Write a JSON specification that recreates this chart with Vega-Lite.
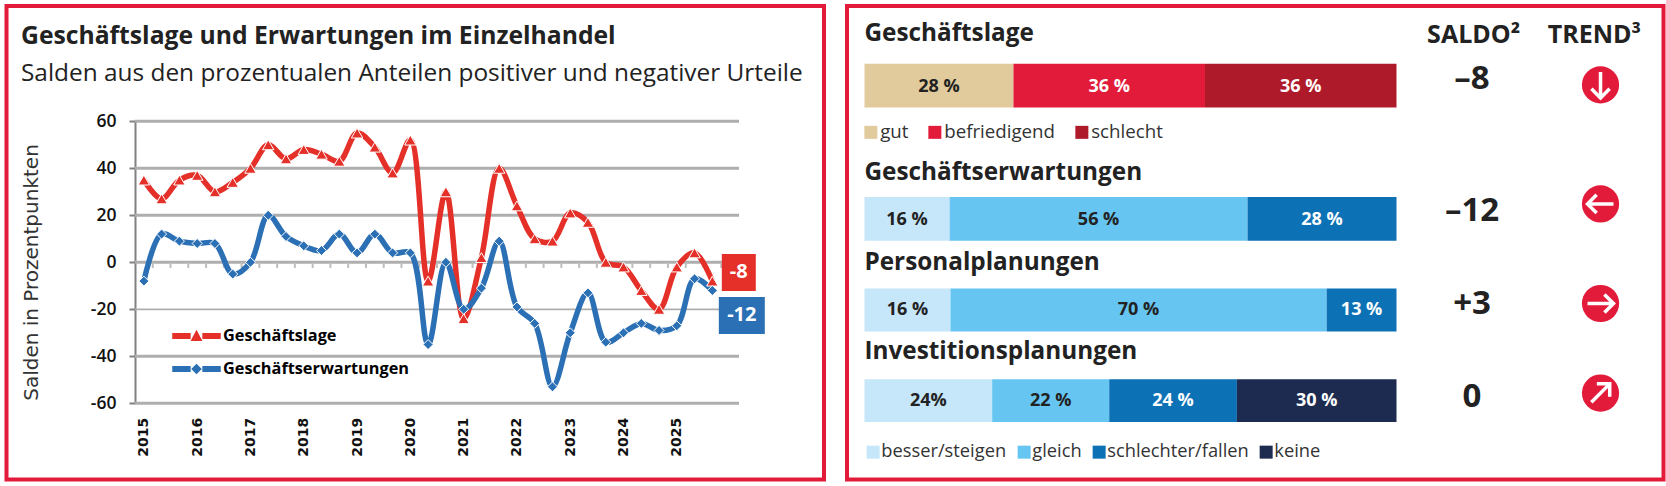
{
"$schema":"https://vega.github.io/schema/vega-lite/v6.json",
"background":"white",
"padding":{"left":4.5,"top":4,"right":0,"bottom":0},
"bounds":"flush",
"spacing":22.5,
"resolve":{"scale":{"color":"independent","fill":"independent"},"legend":{"color":"independent","fill":"independent"}},
"config":{"view":{"stroke":"#E31B3A","strokeWidth":4,"fill":"white"},"font":"Open Sans","axis":{"grid":false}},
"datasets":{
"salden":[
{"jahr":2015,"reihe":"Geschäftslage","saldo":35},{"jahr":2015.333,"reihe":"Geschäftslage","saldo":27},{"jahr":2015.667,"reihe":"Geschäftslage","saldo":35},
{"jahr":2016,"reihe":"Geschäftslage","saldo":37},{"jahr":2016.333,"reihe":"Geschäftslage","saldo":30},{"jahr":2016.667,"reihe":"Geschäftslage","saldo":34},
{"jahr":2017,"reihe":"Geschäftslage","saldo":40},{"jahr":2017.333,"reihe":"Geschäftslage","saldo":50},{"jahr":2017.667,"reihe":"Geschäftslage","saldo":44},
{"jahr":2018,"reihe":"Geschäftslage","saldo":48},{"jahr":2018.333,"reihe":"Geschäftslage","saldo":46},{"jahr":2018.667,"reihe":"Geschäftslage","saldo":43},
{"jahr":2019,"reihe":"Geschäftslage","saldo":55},{"jahr":2019.333,"reihe":"Geschäftslage","saldo":49},{"jahr":2019.667,"reihe":"Geschäftslage","saldo":38},
{"jahr":2020,"reihe":"Geschäftslage","saldo":52},{"jahr":2020.333,"reihe":"Geschäftslage","saldo":-8},{"jahr":2020.667,"reihe":"Geschäftslage","saldo":30},
{"jahr":2021,"reihe":"Geschäftslage","saldo":-24},{"jahr":2021.333,"reihe":"Geschäftslage","saldo":2},{"jahr":2021.667,"reihe":"Geschäftslage","saldo":40},
{"jahr":2022,"reihe":"Geschäftslage","saldo":24},{"jahr":2022.333,"reihe":"Geschäftslage","saldo":10},{"jahr":2022.667,"reihe":"Geschäftslage","saldo":9},
{"jahr":2023,"reihe":"Geschäftslage","saldo":21},{"jahr":2023.333,"reihe":"Geschäftslage","saldo":17},{"jahr":2023.667,"reihe":"Geschäftslage","saldo":0},
{"jahr":2024,"reihe":"Geschäftslage","saldo":-2},{"jahr":2024.333,"reihe":"Geschäftslage","saldo":-12},{"jahr":2024.667,"reihe":"Geschäftslage","saldo":-20},
{"jahr":2025,"reihe":"Geschäftslage","saldo":-2},{"jahr":2025.333,"reihe":"Geschäftslage","saldo":4},{"jahr":2025.667,"reihe":"Geschäftslage","saldo":-8},
{"jahr":2015,"reihe":"Geschäftserwartungen","saldo":-8},{"jahr":2015.333,"reihe":"Geschäftserwartungen","saldo":12},{"jahr":2015.667,"reihe":"Geschäftserwartungen","saldo":9},
{"jahr":2016,"reihe":"Geschäftserwartungen","saldo":8},{"jahr":2016.333,"reihe":"Geschäftserwartungen","saldo":8},{"jahr":2016.667,"reihe":"Geschäftserwartungen","saldo":-5},
{"jahr":2017,"reihe":"Geschäftserwartungen","saldo":0},{"jahr":2017.333,"reihe":"Geschäftserwartungen","saldo":20},{"jahr":2017.667,"reihe":"Geschäftserwartungen","saldo":11},
{"jahr":2018,"reihe":"Geschäftserwartungen","saldo":7},{"jahr":2018.333,"reihe":"Geschäftserwartungen","saldo":5},{"jahr":2018.667,"reihe":"Geschäftserwartungen","saldo":12},
{"jahr":2019,"reihe":"Geschäftserwartungen","saldo":4},{"jahr":2019.333,"reihe":"Geschäftserwartungen","saldo":12},{"jahr":2019.667,"reihe":"Geschäftserwartungen","saldo":4},
{"jahr":2020,"reihe":"Geschäftserwartungen","saldo":4},{"jahr":2020.333,"reihe":"Geschäftserwartungen","saldo":-35},{"jahr":2020.667,"reihe":"Geschäftserwartungen","saldo":0},
{"jahr":2021,"reihe":"Geschäftserwartungen","saldo":-20},{"jahr":2021.333,"reihe":"Geschäftserwartungen","saldo":-11},{"jahr":2021.667,"reihe":"Geschäftserwartungen","saldo":9},
{"jahr":2022,"reihe":"Geschäftserwartungen","saldo":-19},{"jahr":2022.333,"reihe":"Geschäftserwartungen","saldo":-26},{"jahr":2022.667,"reihe":"Geschäftserwartungen","saldo":-53},
{"jahr":2023,"reihe":"Geschäftserwartungen","saldo":-30},{"jahr":2023.333,"reihe":"Geschäftserwartungen","saldo":-13},{"jahr":2023.667,"reihe":"Geschäftserwartungen","saldo":-34},
{"jahr":2024,"reihe":"Geschäftserwartungen","saldo":-30},{"jahr":2024.333,"reihe":"Geschäftserwartungen","saldo":-26},{"jahr":2024.667,"reihe":"Geschäftserwartungen","saldo":-29},
{"jahr":2025,"reihe":"Geschäftserwartungen","saldo":-27},{"jahr":2025.333,"reihe":"Geschäftserwartungen","saldo":-7},{"jahr":2025.667,"reihe":"Geschäftserwartungen","saldo":-12}
],
"raster":[{"wert":60},{"wert":40},{"wert":20},{"wert":0},{"wert":-20},{"wert":-40},{"wert":-60}],
"striche":[{"j":2015.167},{"j":2015.5},{"j":2015.833},{"j":2016.167},{"j":2016.5},{"j":2016.833},{"j":2017.167},{"j":2017.5},{"j":2017.833},{"j":2018.167},{"j":2018.5},{"j":2018.833},{"j":2019.167},{"j":2019.5},{"j":2019.833},{"j":2020.167},{"j":2020.5},{"j":2020.833},{"j":2021.167},{"j":2021.5},{"j":2021.833},{"j":2022.167},{"j":2022.5},{"j":2022.833},{"j":2023.167},{"j":2023.5},{"j":2023.833},{"j":2024.167},{"j":2024.5},{"j":2024.833},{"j":2025.167},{"j":2025.5},{"j":2025.833},{"j":2026.167}],
"anteile":[
{"thema":"Geschäftslage","kategorie":"gut","rang":1,"anteil":28,"label":"28 %"},
{"thema":"Geschäftslage","kategorie":"befriedigend","rang":2,"anteil":36,"label":"36 %"},
{"thema":"Geschäftslage","kategorie":"schlecht","rang":3,"anteil":36,"label":"36 %"},
{"thema":"Geschäftserwartungen","kategorie":"besser/steigen","rang":1,"anteil":16,"label":"16 %"},
{"thema":"Geschäftserwartungen","kategorie":"gleich","rang":2,"anteil":56,"label":"56 %"},
{"thema":"Geschäftserwartungen","kategorie":"schlechter/fallen","rang":3,"anteil":28,"label":"28 %"},
{"thema":"Personalplanungen","kategorie":"besser/steigen","rang":1,"anteil":16,"label":"16 %"},
{"thema":"Personalplanungen","kategorie":"gleich","rang":2,"anteil":70,"label":"70 %"},
{"thema":"Personalplanungen","kategorie":"schlechter/fallen","rang":3,"anteil":13,"label":"13 %"},
{"thema":"Investitionsplanungen","kategorie":"besser/steigen","rang":1,"anteil":24,"label":"24%"},
{"thema":"Investitionsplanungen","kategorie":"gleich","rang":2,"anteil":22,"label":"22 %"},
{"thema":"Investitionsplanungen","kategorie":"schlechter/fallen","rang":3,"anteil":24,"label":"24 %"},
{"thema":"Investitionsplanungen","kategorie":"keine","rang":4,"anteil":30,"label":"30 %"}
],
"zeilen":[
{"thema":"Geschäftslage","saldo":"–8","trend":"fallend"},
{"thema":"Geschäftserwartungen","saldo":"–12","trend":"links"},
{"thema":"Personalplanungen","saldo":"+3","trend":"rechts"},
{"thema":"Investitionsplanungen","saldo":"0","trend":"steigend"}
],
"kopf":[{"spalte":"SALDO²"},{"spalte":"TREND³"}]
},
"hconcat":[
{
"width":817.5,"height":473.5,
"title":{"text":"Geschäftslage und Erwartungen im Einzelhandel","subtitle":"Salden aus den prozentualen Anteilen positiver und negativer Urteile","anchor":"start","frame":"group","offset":-79,"dx":14.5,"font":"Open Sans","fontSize":24.7,"fontWeight":"bold","color":"#222222","subtitleFont":"Open Sans","subtitleFontSize":24.4,"subtitleColor":"#222222","subtitlePadding":13},
"layer":[
{"data":{"name":"raster"},"mark":{"type":"rule","color":"#AEAEAE"},
 "encoding":{
  "y":{"field":"wert","type":"quantitative","scale":{"domain":[-60,60],"range":[397.3,115.3]}},
  "x":{"datum":2014.8333,"type":"quantitative","scale":{"domain":[2014.8333,2026.1667],"range":[128.5,732.5]}},
  "x2":{"datum":2026.1667},
  "strokeWidth":{"condition":{"test":"datum.wert==-20","value":1.8},"value":3}}},
{"data":{"name":"striche"},"mark":{"type":"rule","color":"#BDBDBD","strokeWidth":2},
 "encoding":{
  "x":{"field":"j","type":"quantitative","scale":{"domain":[2014.8333,2026.1667],"range":[128.5,732.5]}},
  "y":{"datum":0,"type":"quantitative","scale":{"domain":[-60,60],"range":[397.3,115.3]}},
  "y2":{"datum":-2.4}}},
{"data":{"name":"salden"},"mark":{"type":"line","interpolate":"catmull-rom","strokeWidth":5.5},
 "encoding":{
  "x":{"field":"jahr","type":"quantitative","scale":{"domain":[2014.8333,2026.1667],"range":[128.5,732.5]},
   "axis":{"orient":"bottom","offset":-76.2,"title":null,"values":[2015,2016,2017,2018,2019,2020,2021,2022,2023,2024,2025],"format":"d","grid":false,"domain":false,"ticks":false,"labelAngle":270,"labelAlign":"right","labelBaseline":"middle","labelPadding":14,"labelFont":"DejaVu Sans","labelFontWeight":"bold","labelFontSize":14,"labelColor":"#111111","labelOverlap":false,"labelFlush":false}},
  "y":{"field":"saldo","type":"quantitative","scale":{"domain":[-60,60],"range":[397.3,115.3]},
   "axis":{"orient":"left","offset":-128.5,"title":"Salden in Prozentpunkten","titleFont":"DejaVu Sans","titleFontWeight":"normal","titleFontSize":20,"titleColor":"#333333","titleAngle":270,"titleAlign":"center","titleBaseline":"middle","titleX":-104,"titleY":266,"values":[60,40,20,0,-20,-40,-60],"labelExpr":"''+datum.value","grid":false,"domainColor":"#808080","domainWidth":2,"tickColor":"#808080","tickWidth":2,"tickSize":6,"labelPadding":13,"labelFont":"Open Sans","labelFontWeight":600,"labelFontSize":17.5,"labelColor":"#111111"}},
  "color":{"field":"reihe","type":"nominal","sort":["Geschäftslage","Geschäftserwartungen"],"scale":{"domain":["Geschäftslage","Geschäftserwartungen"],"range":["#E53029","#2B70B5"]},
   "legend":{"orient":"none","legendX":165.5,"legendY":305.5,"title":null,"direction":"vertical","rowPadding":-13.7,"symbolSize":2209,"labelFont":"Open Sans","labelFontWeight":"bold","labelFontSize":16.3,"labelColor":"#000000","labelOffset":2,"labelLimit":400,
    "encode":{"symbols":{"update":{
     "shape":{"signal":"datum.value=='Geschäftslage'?'M-1,-0.1L-0.28,-0.1L-0.28,0.1L-1,0.1ZM0.28,-0.1L1,-0.1L1,0.1L0.28,0.1ZM0,-0.2L0.2,0.18L-0.2,0.18Z':'M-1,-0.1L-0.28,-0.1L-0.28,0.1L-1,0.1ZM0.28,-0.1L1,-0.1L1,0.1L0.28,0.1ZM0,-0.18L0.18,0L0,0.18L-0.18,0Z'"},
     "fill":{"signal":"datum.value=='Geschäftslage'?'#E53029':'#2B70B5'"},
     "stroke":{"value":"transparent"},"opacity":{"value":1}}}}}}}},
{"data":{"name":"salden"},"transform":[{"filter":"datum.reihe=='Geschäftslage'"}],"mark":{"type":"point","shape":"triangle-up","filled":true,"opacity":1,"stroke":"white","strokeWidth":1,"size":130,"fill":"#E53029"},
 "encoding":{
  "x":{"field":"jahr","type":"quantitative","scale":{"domain":[2014.8333,2026.1667],"range":[128.5,732.5]}},
  "y":{"field":"saldo","type":"quantitative","scale":{"domain":[-60,60],"range":[397.3,115.3]}}}},
{"data":{"name":"salden"},"transform":[{"filter":"datum.reihe=='Geschäftserwartungen'"}],"mark":{"type":"point","shape":"diamond","filled":true,"opacity":1,"stroke":"white","strokeWidth":1,"size":100,"fill":"#2B70B5"},
 "encoding":{
  "x":{"field":"jahr","type":"quantitative","scale":{"domain":[2014.8333,2026.1667],"range":[128.5,732.5]}},
  "y":{"field":"saldo","type":"quantitative","scale":{"domain":[-60,60],"range":[397.3,115.3]}}}},
{"data":{"values":[{"wert":"-8"}]},
 "layer":[
  {"mark":{"type":"rect","color":"#E53029"},"encoding":{
    "x":{"datum":2025.844,"type":"quantitative","scale":{"domain":[2014.8333,2026.1667],"range":[128.5,732.5]}},"x2":{"datum":2026.482},
    "y":{"datum":3.5,"type":"quantitative","scale":{"domain":[-60,60],"range":[397.3,115.3]}},"y2":{"datum":-12.2}}},
  {"mark":{"type":"text","color":"white","font":"Open Sans","fontWeight":"bold","fontSize":20,"align":"center","baseline":"middle"},"encoding":{
    "x":{"datum":2026.163,"type":"quantitative","scale":{"domain":[2014.8333,2026.1667],"range":[128.5,732.5]}},
    "y":{"datum":-4.3,"type":"quantitative","scale":{"domain":[-60,60],"range":[397.3,115.3]}},
    "text":{"field":"wert"}}}
 ]},
{"data":{"values":[{"wert":"-12"}]},
 "layer":[
  {"mark":{"type":"rect","color":"#2B70B5"},"encoding":{
    "x":{"datum":2025.788,"type":"quantitative","scale":{"domain":[2014.8333,2026.1667],"range":[128.5,732.5]}},"x2":{"datum":2026.651},
    "y":{"datum":-14.8,"type":"quantitative","scale":{"domain":[-60,60],"range":[397.3,115.3]}},"y2":{"datum":-30.5}}},
  {"mark":{"type":"text","color":"white","font":"Open Sans","fontWeight":"bold","fontSize":20,"align":"center","baseline":"middle"},"encoding":{
    "x":{"datum":2026.219,"type":"quantitative","scale":{"domain":[2014.8333,2026.1667],"range":[128.5,732.5]}},
    "y":{"datum":-22.6,"type":"quantitative","scale":{"domain":[-60,60],"range":[397.3,115.3]}},
    "text":{"field":"wert"}}}
 ]}
]
},
{
"width":816.5,"height":473.5,
"layer":[
{"data":{"name":"anteile"},"transform":[{"filter":"datum.thema=='Geschäftslage'"}],
 "layer":[
  {"mark":{"type":"bar","orient":"horizontal"},"encoding":{
    "x":{"field":"anteil","type":"quantitative","stack":"normalize","axis":null,"scale":{"domain":[0,1],"range":[17.5,549.5]}},
    "y":{"datum":53.8,"type":"quantitative","axis":null,"scale":{"domain":[473.5,0]}},"y2":{"datum":98.5},
    "order":{"field":"rang","type":"ordinal"},
    "color":{"field":"kategorie","type":"nominal","scale":{"domain":["gut","befriedigend","schlecht"],"range":["#E1CB9C","#E31B3A","#AF1A2A"]},
     "legend":{"orient":"none","legendX":14.5,"legendY":117,"title":null,"direction":"horizontal","columns":3,"symbolType":"square","symbolSize":169,"symbolOpacity":1,"columnPadding":17,"gridAlign":"none","labelFont":"Open Sans","labelFontSize":18.7,"labelColor":"#333333","labelOffset":0}}}},
  {"mark":{"type":"text","font":"Open Sans","fontWeight":"bold","fontSize":18,"align":"center","baseline":"middle"},"encoding":{
    "x":{"field":"anteil","type":"quantitative","stack":"normalize","bandPosition":0.5,"axis":null,"scale":{"domain":[0,1],"range":[17.5,549.5]}},
    "y":{"datum":77.2,"type":"quantitative","axis":null,"scale":{"domain":[473.5,0]}},
    "order":{"field":"rang","type":"ordinal"},"detail":{"field":"kategorie"},
    "text":{"field":"label"},
    "color":{"condition":{"test":"datum.kategorie=='gut'","value":"#222222"},"value":"#FFFFFF"}}}
 ]},
{"data":{"name":"anteile"},"transform":[{"filter":"datum.thema=='Geschäftserwartungen'"}],
 "layer":[
  {"mark":{"type":"bar","orient":"horizontal"},"encoding":{
    "x":{"field":"anteil","type":"quantitative","stack":"normalize","axis":null,"scale":{"domain":[0,1],"range":[17.5,549.5]}},
    "y":{"datum":190,"type":"quantitative","axis":null,"scale":{"domain":[473.5,0]}},"y2":{"datum":234.8},
    "order":{"field":"rang","type":"ordinal"},
    "fill":{"field":"kategorie","type":"nominal","scale":{"domain":["besser/steigen","gleich","schlechter/fallen","keine"],"range":["#C6E6FA","#66C5F1","#0C71B5","#1D2B50"]},
     "legend":{"orient":"none","legendX":17,"legendY":437,"title":null,"direction":"horizontal","columns":4,"symbolType":"square","symbolSize":169,"symbolOpacity":1,"columnPadding":7,"gridAlign":"none","labelFont":"Open Sans","labelFontSize":18.3,"labelColor":"#333333","labelOffset":-1,
      "encode":{"symbols":{"update":{"fill":{"signal":"datum.value=='keine'?'#000000':datum.value=='gleich'?'#66C5F1':datum.value=='besser/steigen'?'#C6E6FA':'#0C71B5'"},"opacity":{"value":1}}}}}}}},
  {"mark":{"type":"text","font":"Open Sans","fontWeight":"bold","fontSize":18,"align":"center","baseline":"middle"},"encoding":{
    "x":{"field":"anteil","type":"quantitative","stack":"normalize","bandPosition":0.5,"axis":null,"scale":{"domain":[0,1],"range":[17.5,549.5]}},
    "y":{"datum":213.4,"type":"quantitative","axis":null,"scale":{"domain":[473.5,0]}},
    "order":{"field":"rang","type":"ordinal"},"detail":{"field":"kategorie"},
    "text":{"field":"label"},
    "color":{"condition":{"test":"datum.kategorie=='schlechter/fallen'||datum.kategorie=='keine'","value":"#FFFFFF"},"value":"#222222"}}}
 ]},
{"data":{"name":"anteile"},"transform":[{"filter":"datum.thema=='Personalplanungen'"}],
 "layer":[
  {"mark":{"type":"bar","orient":"horizontal"},"encoding":{
    "x":{"field":"anteil","type":"quantitative","stack":"normalize","axis":null,"scale":{"domain":[0,1],"range":[17.5,549.5]}},
    "y":{"datum":283.6,"type":"quantitative","axis":null,"scale":{"domain":[473.5,0]}},"y2":{"datum":327.3},
    "order":{"field":"rang","type":"ordinal"},
    "fill":{"field":"kategorie","type":"nominal","legend":null,"scale":{"domain":["besser/steigen","gleich","schlechter/fallen","keine"],"range":["#C6E6FA","#66C5F1","#0C71B5","#1D2B50"]}}}},
  {"mark":{"type":"text","font":"Open Sans","fontWeight":"bold","fontSize":18,"align":"center","baseline":"middle"},"encoding":{
    "x":{"field":"anteil","type":"quantitative","stack":"normalize","bandPosition":0.5,"axis":null,"scale":{"domain":[0,1],"range":[17.5,549.5]}},
    "y":{"datum":305.9,"type":"quantitative","axis":null,"scale":{"domain":[473.5,0]}},
    "order":{"field":"rang","type":"ordinal"},"detail":{"field":"kategorie"},
    "text":{"field":"label"},
    "color":{"condition":{"test":"datum.kategorie=='schlechter/fallen'||datum.kategorie=='keine'","value":"#FFFFFF"},"value":"#222222"}}}
 ]},
{"data":{"name":"anteile"},"transform":[{"filter":"datum.thema=='Investitionsplanungen'"}],
 "layer":[
  {"mark":{"type":"bar","orient":"horizontal"},"encoding":{
    "x":{"field":"anteil","type":"quantitative","stack":"normalize","axis":null,"scale":{"domain":[0,1],"range":[17.5,549.5]}},
    "y":{"datum":376.1,"type":"quantitative","axis":null,"scale":{"domain":[473.5,0]}},"y2":{"datum":419.8},
    "order":{"field":"rang","type":"ordinal"},
    "fill":{"field":"kategorie","type":"nominal","legend":null,"scale":{"domain":["besser/steigen","gleich","schlechter/fallen","keine"],"range":["#C6E6FA","#66C5F1","#0C71B5","#1D2B50"]}}}},
  {"mark":{"type":"text","font":"Open Sans","fontWeight":"bold","fontSize":18,"align":"center","baseline":"middle"},"encoding":{
    "x":{"field":"anteil","type":"quantitative","stack":"normalize","bandPosition":0.5,"axis":null,"scale":{"domain":[0,1],"range":[17.5,549.5]}},
    "y":{"datum":398.5,"type":"quantitative","axis":null,"scale":{"domain":[473.5,0]}},
    "order":{"field":"rang","type":"ordinal"},"detail":{"field":"kategorie"},
    "text":{"field":"label"},
    "color":{"condition":{"test":"datum.kategorie=='schlechter/fallen'||datum.kategorie=='keine'","value":"#FFFFFF"},"value":"#222222"}}}
 ]},
{"data":{"name":"zeilen"},"transform":[{"filter":"datum.thema=='Geschäftslage'"}],
 "layer":[
  {"mark":{"type":"text","font":"Open Sans","fontWeight":"bold","fontSize":24.3,"color":"#222222","align":"left","baseline":"middle"},"encoding":{"x":{"datum":0,"type":"quantitative","axis":null,"scale":{"domain":[0,1],"range":[17.5,549.5]}},"y":{"datum":23.3,"type":"quantitative","axis":null,"scale":{"domain":[473.5,0]}},"text":{"field":"thema"}}},
  {"mark":{"type":"text","font":"Open Sans","fontWeight":"bold","fontSize":33,"color":"#222222","align":"center","baseline":"middle"},"encoding":{"x":{"datum":1.142,"type":"quantitative","axis":null,"scale":{"domain":[0,1],"range":[17.5,549.5]}},"y":{"datum":69.1,"type":"quantitative","axis":null,"scale":{"domain":[473.5,0]}},"text":{"field":"saldo"}}},
  {"mark":{"type":"circle","size":1385,"color":"#E31B3A","opacity":1},"encoding":{"x":{"datum":1.3835,"type":"quantitative","axis":null,"scale":{"domain":[0,1],"range":[17.5,549.5]}},"y":{"datum":75.5,"type":"quantitative","axis":null,"scale":{"domain":[473.5,0]}}}},
  {"mark":{"type":"point","shape":"M0,-1L0,1M-0.7,0.3L0,1L0.7,0.3","filled":false,"stroke":"white","strokeWidth":3.5,"opacity":1,"size":676,"angle":0},"encoding":{"x":{"datum":1.3835,"type":"quantitative","axis":null,"scale":{"domain":[0,1],"range":[17.5,549.5]}},"y":{"datum":75.5,"type":"quantitative","axis":null,"scale":{"domain":[473.5,0]}}}}
 ]},
{"data":{"name":"zeilen"},"transform":[{"filter":"datum.thema=='Geschäftserwartungen'"}],
 "layer":[
  {"mark":{"type":"text","font":"Open Sans","fontWeight":"bold","fontSize":24.3,"color":"#222222","align":"left","baseline":"middle"},"encoding":{"x":{"datum":0,"type":"quantitative","axis":null,"scale":{"domain":[0,1],"range":[17.5,549.5]}},"y":{"datum":165.6,"type":"quantitative","axis":null,"scale":{"domain":[473.5,0]}},"text":{"field":"thema"}}},
  {"mark":{"type":"text","font":"Open Sans","fontWeight":"bold","fontSize":33,"color":"#222222","align":"center","baseline":"middle"},"encoding":{"x":{"datum":1.142,"type":"quantitative","axis":null,"scale":{"domain":[0,1],"range":[17.5,549.5]}},"y":{"datum":204.2,"type":"quantitative","axis":null,"scale":{"domain":[473.5,0]}},"text":{"field":"saldo"}}},
  {"mark":{"type":"circle","size":1385,"color":"#E31B3A","opacity":1},"encoding":{"x":{"datum":1.3835,"type":"quantitative","axis":null,"scale":{"domain":[0,1],"range":[17.5,549.5]}},"y":{"datum":197.1,"type":"quantitative","axis":null,"scale":{"domain":[473.5,0]}}}},
  {"mark":{"type":"point","shape":"M0,-1L0,1M-0.7,0.3L0,1L0.7,0.3","filled":false,"stroke":"white","strokeWidth":3.5,"opacity":1,"size":676,"angle":90},"encoding":{"x":{"datum":1.3835,"type":"quantitative","axis":null,"scale":{"domain":[0,1],"range":[17.5,549.5]}},"y":{"datum":197.1,"type":"quantitative","axis":null,"scale":{"domain":[473.5,0]}}}}
 ]},
{"data":{"name":"zeilen"},"transform":[{"filter":"datum.thema=='Personalplanungen'"}],
 "layer":[
  {"mark":{"type":"text","font":"Open Sans","fontWeight":"bold","fontSize":24.3,"color":"#222222","align":"left","baseline":"middle"},"encoding":{"x":{"datum":0,"type":"quantitative","axis":null,"scale":{"domain":[0,1],"range":[17.5,549.5]}},"y":{"datum":257.1,"type":"quantitative","axis":null,"scale":{"domain":[473.5,0]}},"text":{"field":"thema"}}},
  {"mark":{"type":"text","font":"Open Sans","fontWeight":"bold","fontSize":33,"color":"#222222","align":"center","baseline":"middle"},"encoding":{"x":{"datum":1.142,"type":"quantitative","axis":null,"scale":{"domain":[0,1],"range":[17.5,549.5]}},"y":{"datum":299.8,"type":"quantitative","axis":null,"scale":{"domain":[473.5,0]}},"text":{"field":"saldo"}}},
  {"mark":{"type":"circle","size":1385,"color":"#E31B3A","opacity":1},"encoding":{"x":{"datum":1.3835,"type":"quantitative","axis":null,"scale":{"domain":[0,1],"range":[17.5,549.5]}},"y":{"datum":298.8,"type":"quantitative","axis":null,"scale":{"domain":[473.5,0]}}}},
  {"mark":{"type":"point","shape":"M0,-1L0,1M-0.7,0.3L0,1L0.7,0.3","filled":false,"stroke":"white","strokeWidth":3.5,"opacity":1,"size":676,"angle":270},"encoding":{"x":{"datum":1.3835,"type":"quantitative","axis":null,"scale":{"domain":[0,1],"range":[17.5,549.5]}},"y":{"datum":298.8,"type":"quantitative","axis":null,"scale":{"domain":[473.5,0]}}}}
 ]},
{"data":{"name":"zeilen"},"transform":[{"filter":"datum.thema=='Investitionsplanungen'"}],
 "layer":[
  {"mark":{"type":"text","font":"Open Sans","fontWeight":"bold","fontSize":24.3,"color":"#222222","align":"left","baseline":"middle"},"encoding":{"x":{"datum":0,"type":"quantitative","axis":null,"scale":{"domain":[0,1],"range":[17.5,549.5]}},"y":{"datum":348.6,"type":"quantitative","axis":null,"scale":{"domain":[473.5,0]}},"text":{"field":"thema"}}},
  {"mark":{"type":"text","font":"Open Sans","fontWeight":"bold","fontSize":33,"color":"#222222","align":"center","baseline":"middle"},"encoding":{"x":{"datum":1.142,"type":"quantitative","axis":null,"scale":{"domain":[0,1],"range":[17.5,549.5]}},"y":{"datum":394.4,"type":"quantitative","axis":null,"scale":{"domain":[473.5,0]}},"text":{"field":"saldo"}}},
  {"mark":{"type":"circle","size":1385,"color":"#E31B3A","opacity":1},"encoding":{"x":{"datum":1.3835,"type":"quantitative","axis":null,"scale":{"domain":[0,1],"range":[17.5,549.5]}},"y":{"datum":390.3,"type":"quantitative","axis":null,"scale":{"domain":[473.5,0]}}}},
  {"mark":{"type":"point","shape":"M0,-1L0,1M-0.7,0.3L0,1L0.7,0.3","filled":false,"stroke":"white","strokeWidth":3.5,"opacity":1,"size":676,"angle":225},"encoding":{"x":{"datum":1.3835,"type":"quantitative","axis":null,"scale":{"domain":[0,1],"range":[17.5,549.5]}},"y":{"datum":390.3,"type":"quantitative","axis":null,"scale":{"domain":[473.5,0]}}}}
 ]},
{"data":{"name":"kopf"},"transform":[{"filter":"datum.spalte=='SALDO²'"}],"mark":{"type":"text","font":"Open Sans","fontWeight":"bold","fontSize":25,"color":"#222222","align":"center","baseline":"middle"},
 "encoding":{"x":{"datum":1.145,"type":"quantitative","axis":null,"scale":{"domain":[0,1],"range":[17.5,549.5]}},"y":{"datum":24.3,"type":"quantitative","axis":null,"scale":{"domain":[473.5,0]}},"text":{"field":"spalte"}}},
{"data":{"name":"kopf"},"transform":[{"filter":"datum.spalte=='TREND³'"}],"mark":{"type":"text","font":"Open Sans","fontWeight":"bold","fontSize":25,"color":"#222222","align":"center","baseline":"middle"},
 "encoding":{"x":{"datum":1.372,"type":"quantitative","axis":null,"scale":{"domain":[0,1],"range":[17.5,549.5]}},"y":{"datum":24.3,"type":"quantitative","axis":null,"scale":{"domain":[473.5,0]}},"text":{"field":"spalte"}}}
]
}
]
}
